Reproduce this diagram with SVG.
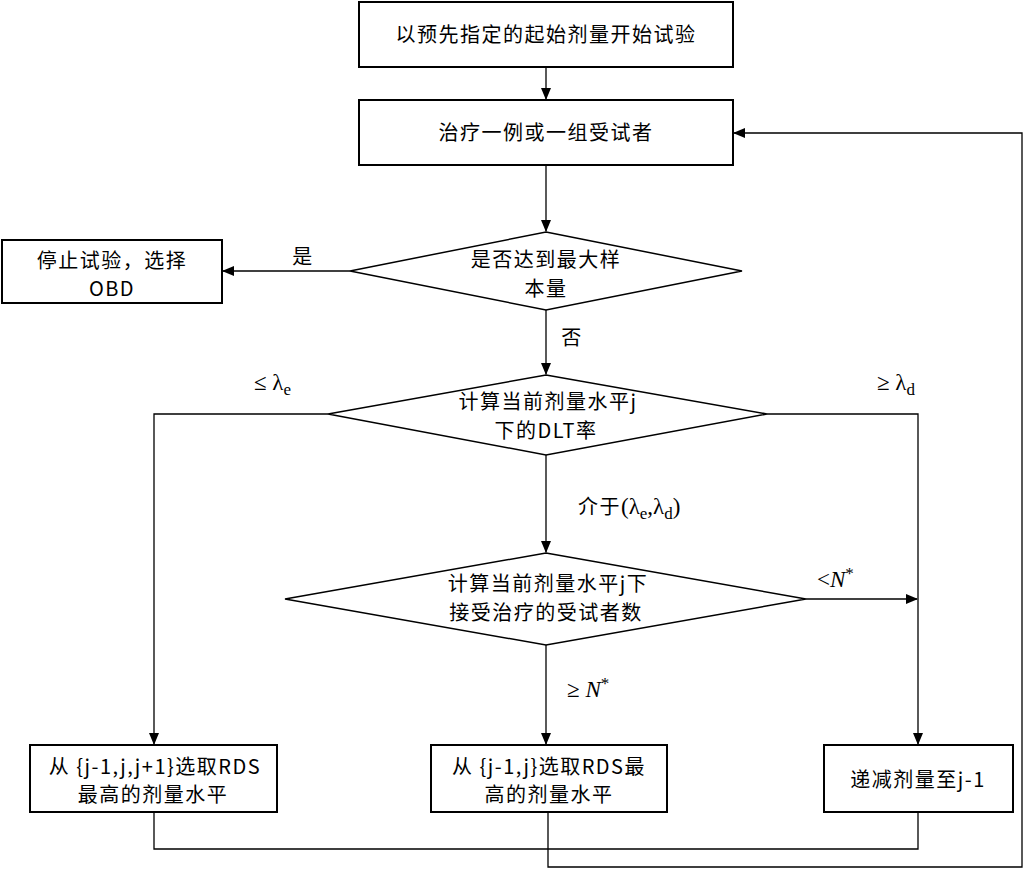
<svg xmlns="http://www.w3.org/2000/svg" width="1027" height="869" viewBox="0 0 1027 869">
<style>
.box{fill:#fff;stroke:#000;stroke-width:2}
.dia{fill:#fff;stroke:#000;stroke-width:1.5}
.ln{fill:none;stroke:#000;stroke-width:1.3}
.t{font-family:"Noto Sans CJK SC","Noto Sans",sans-serif;font-size:20px;text-anchor:middle;fill:#000;letter-spacing:1.5px}
.m{font-family:"Liberation Serif","DejaVu Serif",serif;font-size:23px;fill:#000}
.s{font-size:17px}
</style>
<defs>
<marker id="ar" markerWidth="12" markerHeight="10" refX="11" refY="5" orient="auto" markerUnits="userSpaceOnUse">
<path d="M0,0 L12,5 L0,10 Z" fill="#000"/>
</marker>
</defs>
<rect width="1027" height="869" fill="#fff"/>
<g id="connectors">
<path class="ln" d="M546,67 V99" marker-end="url(#ar)"/>
<path class="ln" d="M546,165 V231" marker-end="url(#ar)"/>
<path class="ln" d="M350,271 H223" marker-end="url(#ar)"/>
<path class="ln" d="M546,310 V374" marker-end="url(#ar)"/>
<path class="ln" d="M328,414 H154 V744" marker-end="url(#ar)"/>
<path class="ln" d="M767,414 H918 V744" marker-end="url(#ar)"/>
<path class="ln" d="M546,455 V552" marker-end="url(#ar)"/>
<path class="ln" d="M806,599 H917" marker-end="url(#ar)"/>
<path class="ln" d="M546,645 V744" marker-end="url(#ar)"/>
<path class="ln" d="M154,813 V849 H918 V813"/>
<path class="ln" d="M548,813 V867 H1022 V133 H734" marker-end="url(#ar)"/>
<text class="t" x="303" y="264">是</text>
<text class="t" x="572" y="345">否</text>
<text class="m" x="254" y="390">≤ λ<tspan class="s" dy="5">e</tspan></text>
<text class="m" x="877" y="390">≥ λ<tspan class="s" dy="5">d</tspan></text>
<text x="578" y="514"><tspan class="t" style="text-anchor:start">介于</tspan><tspan class="m">(λ<tspan class="s" dy="5">e</tspan><tspan dy="-5">,λ</tspan><tspan class="s" dy="5">d</tspan><tspan dy="-5">)</tspan></tspan></text>
<text class="m" x="817" y="587">&lt;<tspan font-style="italic">N</tspan><tspan class="s" dy="-8">*</tspan></text>
<text class="m" x="567" y="697">≥ <tspan font-style="italic">N</tspan><tspan class="s" dy="-8">*</tspan></text>
</g>
<g id="start">
<rect class="box" x="359" y="2" width="374" height="65"/>
<text class="t" x="546" y="42">以预先指定的起始剂量开始试验</text>
</g>
<g id="treat">
<rect class="box" x="359" y="100" width="374" height="65"/>
<text class="t" x="546" y="140">治疗一例或一组受试者</text>
</g>
<g id="maxsample">
<polygon class="dia" points="546,232 742,271 546,310 350,271"/>
<text class="t" x="546" y="267">是否达到最大样</text>
<text class="t" x="546" y="296">本量</text>
</g>
<g id="stop">
<rect class="box" x="2" y="240" width="220" height="63"/>
<text class="t" x="112" y="268">停止试验，选择</text>
<text class="t" x="112" y="296">OBD</text>
</g>
<g id="dltrate">
<polygon class="dia" points="546,375 767,414 546,455 328,414"/>
<text class="t" x="548" y="409">计算当前剂量水平j</text>
<text class="t" x="546" y="438">下的DLT率</text>
</g>
<g id="count">
<polygon class="dia" points="546,553 806,599 546,645 285,599"/>
<text class="t" x="548" y="591">计算当前剂量水平j下</text>
<text class="t" x="546" y="620">接受治疗的受试者数</text>
</g>
<g id="boxL">
<rect class="box" x="30" y="745" width="247" height="67"/>
<text class="t" x="155" y="774">从 {j-1,j,j+1}选取RDS</text>
<text class="t" x="153" y="802">最高的剂量水平</text>
</g>
<g id="boxM">
<rect class="box" x="431" y="745" width="236" height="67"/>
<text class="t" x="549" y="774">从 {j-1,j}选取RDS最</text>
<text class="t" x="549" y="802">高的剂量水平</text>
</g>
<g id="boxR">
<rect class="box" x="824" y="745" width="189" height="67"/>
<text class="t" x="918" y="787">递减剂量至j-1</text>
</g>
</svg>
